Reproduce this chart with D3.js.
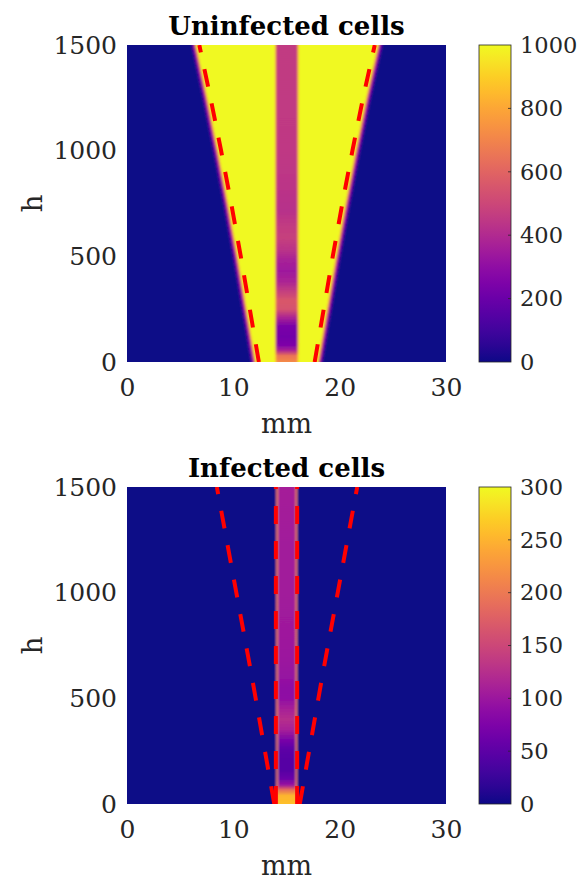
<!DOCTYPE html>
<html>
<head>
<meta charset="utf-8">
<script src="https://cdn.jsdelivr.net/npm/d3@7"></script>
<style>
  body { margin: 0; background: #fff; }
  svg { display: block; }
</style>
</head>
<body>
<svg id="chart" width="580" height="882"></svg>
<script>
// ---- axis ticks ----
const xTicks = [0, 10, 20, 30];
const yTicks = [0, 500, 1000, 1500];
const cbTicksU = [0, 200, 400, 600, 800, 1000];
const cbTicksI = [0, 50, 100, 150, 200, 250, 300];

// ---- uninfected cells: expanding front (mm) at sampled times (h) ----
const frontH      = [0, 250, 500, 750, 1000, 1250, 1500];
const frontLeftU  = [12.1, 11.25, 10.4, 9.5, 8.55, 7.55, 6.5];
const frontRightU = [17.95, 18.8, 19.65, 20.55, 21.5, 22.5, 23.6];
const dashLeftU   = [12.4, 11.55, 10.7, 9.8, 8.85, 7.85, 6.8];
const dashRightU  = [17.65, 18.5, 19.35, 20.25, 21.2, 22.2, 23.3];

// central strip (mm) and its density along time
const stripEdges = [14.05, 16.0];
const stripHU = [0, 30, 55, 80, 120, 170, 210, 250, 290, 330, 380, 430, 480, 530, 590, 650, 720, 800, 900, 1000, 1200, 1500];
const stripVU = [720, 650, 380, 250, 220, 240, 380, 540, 560, 480, 380, 340, 370, 430, 480, 460, 420, 430, 445, 450, 455, 460];
const fieldValueU = 1000;

// ---- infected cells ----
const dashHI      = [0, 300, 600, 900, 1200, 1500];
const dashLeftI   = [13.85, 12.8, 11.75, 10.65, 9.55, 8.45];
const dashRightI  = [16.25, 17.3, 18.35, 19.45, 20.55, 21.65];
const innerDashI  = [14.0, 16.0];
const stripHI = [0, 40, 70, 90, 120, 160, 200, 260, 300, 350, 400, 450, 500, 550, 600, 700, 800, 1000, 1200, 1500];
const stripVI = [260, 250, 180, 100, 60, 45, 45, 50, 70, 110, 125, 110, 90, 88, 95, 100, 103, 105, 105, 108];
const edgeValueI = 210;

// ---- layout ----
const svg = d3.select('#chart');
const defs = svg.append('defs');
const FONT = "'DejaVu Serif', serif";
const TXT = '#262626';
const plotL = 127, plotR = 446, plotH = 317;
const cbX = 479, cbW = 32;
const x = d3.scaleLinear().domain([0, 30]).range([plotL, plotR]);

// soft transition at the front edge: (offset mm, fraction of the plateau value)
const edgeRamp = [[0.45, 0.12], [0.3, 0.35], [0.15, 0.7], [0, 1]];

function verticalGradient(id, y, hs, vs, color) {
  const grad = defs.append('linearGradient').attr('id', id)
    .attr('gradientUnits', 'userSpaceOnUse')
    .attr('x1', 0).attr('x2', 0).attr('y1', y(0)).attr('y2', y(1500));
  grad.selectAll('stop').data(hs).join('stop')
    .attr('offset', (h) => (y(h) - y(0)) / (y(1500) - y(0)))
    .attr('stop-color', (h, i) => color(vs[i]));
}

function panel(opt) {
  const top = opt.top;
  const y = d3.scaleLinear().domain([0, 1500]).range([top + plotH, top]);
  const color = d3.scaleSequential(d3.interpolatePlasma).domain([0, opt.vmax]);
  const g = svg.append('g');

  const clipId = 'clip-' + opt.id;
  defs.append('clipPath').attr('id', clipId).append('rect')
    .attr('x', x(0)).attr('y', y(1500))
    .attr('width', x(30) - x(0)).attr('height', y(0) - y(1500));
  const blurId = 'blur-' + opt.id;
  defs.append('filter').attr('id', blurId)
    .attr('x', '-10%').attr('y', '0%').attr('width', '120%').attr('height', '100%')
    .append('feGaussianBlur').attr('stdDeviation', '1 0');

  const field = g.append('g').attr('clip-path', `url(#${clipId})`)
    .append('g').attr('filter', `url(#${blurId})`);
  field.append('rect')
    .attr('x', x(-2)).attr('y', y(1500)).attr('width', x(32) - x(-2)).attr('height', y(0) - y(1500))
    .attr('fill', color(0));
  opt.drawField(field, y, color);

  // dashed front lines
  const lines = g.append('g').attr('clip-path', `url(#${clipId})`);
  opt.fronts.forEach(f => {
    const line = d3.line().x(d => x(d[0])).y(d => y(d[1]));
    lines.append('path')
      .attr('d', line(f.h.map((h, i) => [f.x[i], h])))
      .attr('fill', 'none').attr('stroke', '#ff0000').attr('stroke-width', 4)
      .attr('stroke-dasharray', '18 17').attr('stroke-linecap', 'butt');
  });

  // axes
  const ax = g.append('g').attr('transform', `translate(0,${y(0)})`)
    .call(d3.axisBottom(x).tickValues(xTicks).tickSize(0).tickPadding(16).tickFormat(d3.format('d')));
  const ay = g.append('g').attr('transform', `translate(${x(0)},0)`)
    .call(d3.axisLeft(y).tickValues(yTicks).tickSize(0).tickPadding(10).tickFormat(d3.format('d')));
  [ax, ay].forEach(a => {
    a.select('.domain').remove();
    a.selectAll('text').attr('font-family', FONT).attr('font-size', 25).attr('fill', TXT);
  });

  g.append('text').attr('x', (x(0) + x(30)) / 2).attr('y', top + plotH + 71)
    .attr('text-anchor', 'middle').attr('font-family', FONT).attr('font-size', 27)
    .attr('fill', TXT).text('mm');
  g.append('text').attr('transform', `translate(42,${y(750)}) rotate(-90)`)
    .attr('text-anchor', 'middle').attr('font-family', FONT).attr('font-size', 28)
    .attr('fill', TXT).text('h');
  g.append('text').attr('x', (x(0) + x(30)) / 2).attr('y', top - 10)
    .attr('text-anchor', 'middle').attr('font-family', FONT).attr('font-size', 26)
    .attr('font-weight', 'bold').attr('fill', '#000').text(opt.title);

  // colorbar
  const cy = d3.scaleLinear().domain([0, opt.vmax]).range([top + plotH, top]);
  const cgId = 'cbar-' + opt.id;
  const cg = defs.append('linearGradient').attr('id', cgId)
    .attr('x1', 0).attr('x2', 0).attr('y1', 1).attr('y2', 0);
  cg.selectAll('stop').data(d3.range(0, 1.0001, 0.05)).join('stop')
    .attr('offset', d => d).attr('stop-color', d => d3.interpolatePlasma(d));
  g.append('rect').attr('x', cbX).attr('y', top).attr('width', cbW).attr('height', plotH)
    .attr('fill', `url(#${cgId})`).attr('stroke', TXT).attr('stroke-width', 0.8);
  g.append('g').selectAll('line').data(opt.cbTicks.slice(1, -1)).join('line')
    .attr('x1', cbX + cbW - 3).attr('x2', cbX + cbW).attr('y1', d => cy(d)).attr('y2', d => cy(d))
    .attr('stroke', TXT).attr('stroke-width', 0.8);
  const ac = g.append('g').attr('transform', `translate(${cbX + cbW},0)`)
    .call(d3.axisRight(cy).tickValues(opt.cbTicks).tickSize(0).tickPadding(9).tickFormat(d3.format('d')));
  ac.select('.domain').remove();
  ac.selectAll('text').attr('font-family', FONT).attr('font-size', 22.5).attr('fill', TXT);
}

// ---- uninfected panel ----
panel({
  id: 'u', top: 45, vmax: 1000, title: 'Uninfected cells', cbTicks: cbTicksU,
  fronts: [{ h: frontH, x: dashLeftU }, { h: frontH, x: dashRightU }],
  drawField(field, y, color) {
    const pts = frontH.map((h, i) => ({ h, l: frontLeftU[i], r: frontRightU[i] }));
    edgeRamp.forEach(([off, frac]) => {
      field.append('path')
        .attr('d', d3.area().y(d => y(d.h)).x0(d => x(d.l - off)).x1(d => x(d.r + off))(pts))
        .attr('fill', color(fieldValueU * frac));
    });
    verticalGradient('strip-u', y, stripHU, stripVU, color);
    verticalGradient('strip-u-halo', y, stripHU, stripVU.map(v => (v + fieldValueU) / 2), color);
    field.append('rect')
      .attr('x', x(stripEdges[0] - 0.12)).attr('y', y(1500))
      .attr('width', x(stripEdges[1] + 0.12) - x(stripEdges[0] - 0.12)).attr('height', y(0) - y(1500))
      .attr('fill', 'url(#strip-u-halo)');
    field.append('rect')
      .attr('x', x(stripEdges[0])).attr('y', y(1500))
      .attr('width', x(stripEdges[1]) - x(stripEdges[0])).attr('height', y(0) - y(1500))
      .attr('fill', 'url(#strip-u)');
  }
});

// ---- infected panel ----
panel({
  id: 'i', top: 487, vmax: 300, title: 'Infected cells', cbTicks: cbTicksI,
  fronts: [
    { h: dashHI, x: dashLeftI }, { h: dashHI, x: dashRightI },
    { h: [0, 1500], x: [innerDashI[0], innerDashI[0]] },
    { h: [0, 1500], x: [innerDashI[1], innerDashI[1]] }
  ],
  drawField(field, y, color) {
    verticalGradient('strip-i', y, stripHI, stripVI, color);
    verticalGradient('strip-i-edge', y, stripHI, stripVI.map(v => Math.max(v, edgeValueI)), color);
    field.append('rect')
      .attr('x', x(stripEdges[0])).attr('y', y(1500))
      .attr('width', x(stripEdges[1]) - x(stripEdges[0])).attr('height', y(0) - y(1500))
      .attr('fill', 'url(#strip-i)');
    [[stripEdges[0], stripEdges[0] + 0.15], [stripEdges[1] - 0.15, stripEdges[1]]].forEach(([a, b]) => {
      field.append('rect')
        .attr('x', x(a)).attr('y', y(1500)).attr('width', x(b) - x(a)).attr('height', y(0) - y(1500))
        .attr('fill', 'url(#strip-i-edge)');
    });
  }
});
</script>
</body>
</html>
